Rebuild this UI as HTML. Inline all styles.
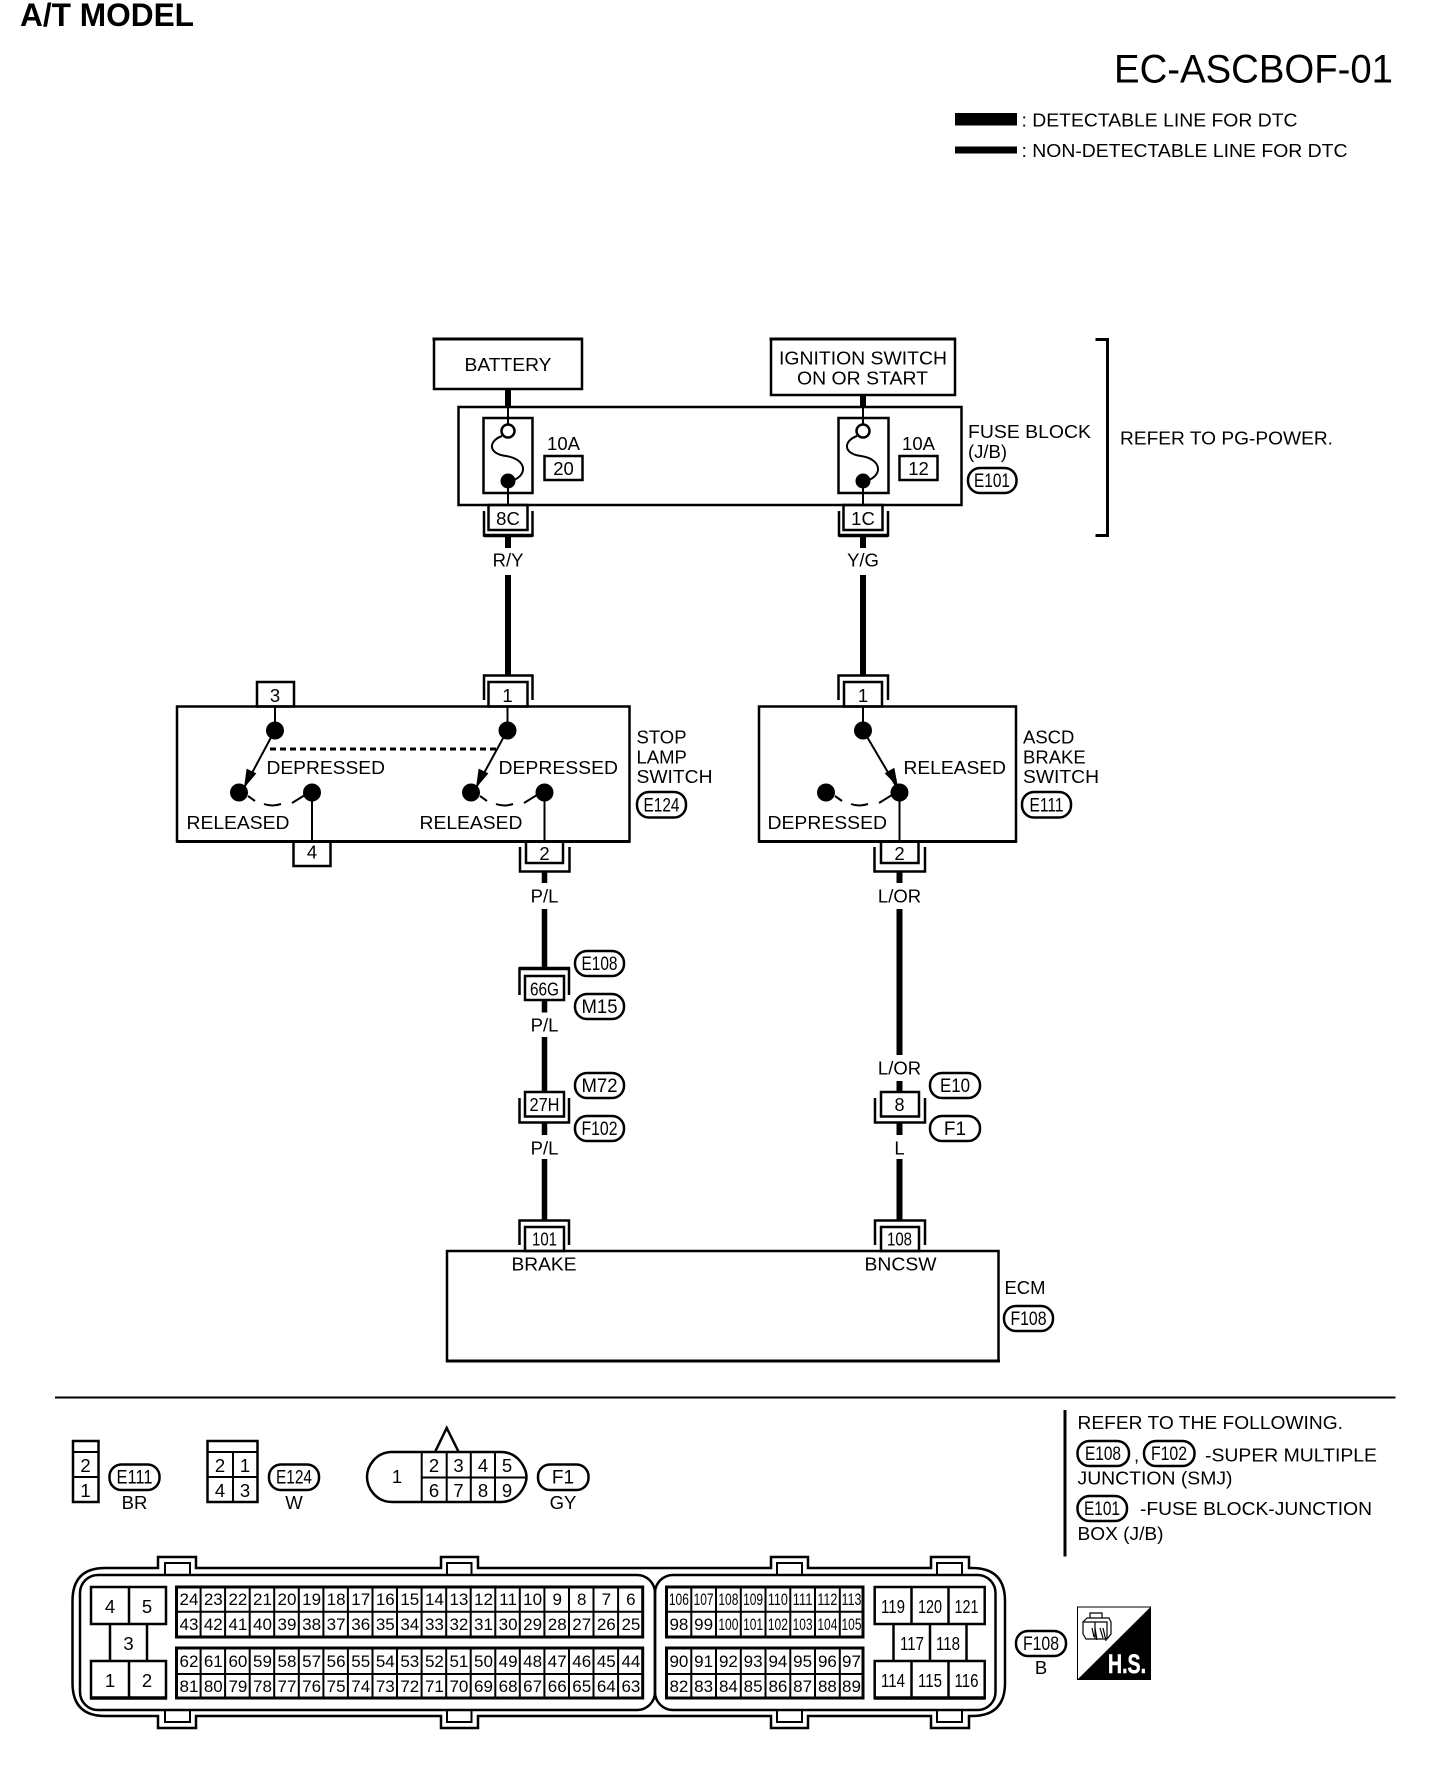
<!DOCTYPE html>
<html><head><meta charset="utf-8"><title>EC-ASCBOF-01</title>
<style>
html,body{margin:0;padding:0;background:#fff}
svg{display:block}
text{font-family:"Liberation Sans",sans-serif;font-size:18.5px;fill:#000}
.c text,text.c{text-anchor:middle}
.b{fill:none;stroke:#000;stroke-width:2.5}
.t{fill:none;stroke:#000;stroke-width:6}
.t2{fill:none;stroke:#000;stroke-width:5.5}
.n{fill:none;stroke:#000;stroke-width:2}
.g{fill:none;stroke:#000;stroke-width:2}
.cap rect{fill:#fff;stroke:#000;stroke-width:2.5}
.cap text{text-anchor:middle;font-size:19px}
.d text{font-size:17px;text-anchor:middle}
</style></head><body>
<svg xmlns="http://www.w3.org/2000/svg" width="1440" height="1780" viewBox="0 0 1440 1780">
<rect width="1440" height="1780" fill="#fff"/>
<!-- Header -->
<text x="20" y="26" style="font-size:32px;font-weight:bold" textLength="174" lengthAdjust="spacingAndGlyphs">A/T MODEL</text>
<text x="1114" y="82.5" style="font-size:40px" textLength="279" lengthAdjust="spacingAndGlyphs">EC-ASCBOF-01</text>
<rect x="955" y="113" width="62" height="12.5" fill="#000"/>
<rect x="955" y="146.5" width="62" height="7" fill="#000"/>
<text x="1021.5" y="126.5" textLength="276" lengthAdjust="spacingAndGlyphs">: DETECTABLE LINE FOR DTC</text>
<text x="1021.5" y="157" textLength="326" lengthAdjust="spacingAndGlyphs">: NON-DETECTABLE LINE FOR DTC</text>

<!-- Top boxes -->
<rect class="b" x="434" y="339" width="148" height="50"/>
<path d="M432.5 339H583" stroke="#000" stroke-width="3"/>
<text x="464.5" y="371" textLength="87" lengthAdjust="spacingAndGlyphs">BATTERY</text>
<rect class="b" x="771" y="339" width="184" height="56"/>
<path d="M769.5 339H956" stroke="#000" stroke-width="3"/>
<text x="779" y="364.5" textLength="168" lengthAdjust="spacingAndGlyphs">IGNITION SWITCH</text>
<text x="797" y="384.5" textLength="131" lengthAdjust="spacingAndGlyphs">ON OR START</text>
<path class="t" d="M508 389V407M863 395V407"/>

<!-- Fuse block -->
<rect class="b" x="458.5" y="407" width="503" height="98"/>
<path class="n" d="M508 407V425M508 487V505M863 407V425M863 487V505"/>
<rect class="b" x="483.5" y="418" width="49" height="75"/>
<rect class="b" x="838.5" y="418" width="50" height="75"/>
<circle class="b" cx="508" cy="431" r="6.5" fill="#fff"/>
<circle cx="508" cy="481" r="7.5" fill="#000"/>
<circle class="b" cx="863" cy="431" r="6.5" fill="#fff"/>
<circle cx="863" cy="481" r="7.5" fill="#000"/>
<path class="n" d="M502 436C488 441 488 454 506 456C526 459 528 474 514 480"/>
<path class="n" d="M857 436C843 441 843 454 861 456C881 459 883 474 869 480"/>
<g class="c">
<text x="563.5" y="450">10A</text><text x="918.5" y="450">10A</text>
<text x="563.5" y="475">20</text><text x="918.5" y="475">12</text>
<text x="508" y="525">8C</text><text x="863" y="525">1C</text>
</g>
<rect class="b" x="544.5" y="456" width="38" height="24"/>
<rect class="b" x="899.5" y="456" width="38" height="24"/>
<rect class="b" x="488.5" y="505" width="39" height="25"/>
<rect class="b" x="843.5" y="505" width="39" height="25"/>
<path class="b" d="M484 511V535.5H532.5V511M839 511V535.5H888V511"/>
<path class="b" d="M484 535.5H532.5M839 535.5H888" style="stroke-width:3.5"/>
<text x="968" y="438" textLength="123" lengthAdjust="spacingAndGlyphs">FUSE BLOCK</text>
<text x="968" y="458">(J/B)</text>
<g class="cap"><rect x="968" y="468" width="48.5" height="25" rx="12"/><text x="992" y="487" textLength="36" lengthAdjust="spacingAndGlyphs">E101</text></g>
<path d="M1095.5 339.5H1107.5V535.5H1095.5" fill="none" stroke="#000" stroke-width="3"/>
<text x="1120" y="444.5" textLength="213" lengthAdjust="spacingAndGlyphs">REFER TO PG-POWER.</text>

<!-- Wires -->
<path class="t" d="M508 536V548M508 575V675M863 536V548M863 575V675"/>
<path class="t2" d="M544.5 872V883M544.5 909V968M544.5 1000V1012.5M544.5 1037V1092M544.5 1123V1135M544.5 1159V1220"/>
<path class="t" d="M899.5 872V883M899.5 909V1055M899.5 1081V1092M899.5 1123V1135M899.5 1159V1220"/>
<g class="c">
<text x="508" y="566.5">R/Y</text><text x="863" y="566.5">Y/G</text>
<text x="544.5" y="902.5">P/L</text><text x="899.5" y="902.5">L/OR</text>
<text x="544.5" y="1031.5">P/L</text><text x="544.5" y="1154.5">P/L</text>
<text x="899.5" y="1074.5">L/OR</text><text x="899.5" y="1154.5">L</text>
</g>

<!-- Stop lamp switch -->
<rect class="b" x="177" y="706.5" width="452.5" height="135"/>
<path d="M177 841.5H630" stroke="#000" stroke-width="3"/>
<rect class="b" x="257" y="682" width="37" height="24.5"/>
<rect class="b" x="488.5" y="682" width="39" height="24.5"/>
<path class="b" d="M484 700V675.5H532.5V700"/>
<rect class="b" x="293.5" y="841.5" width="37" height="24.5"/>
<rect class="b" x="526" y="841.5" width="37" height="21.5"/>
<path class="b" d="M520 847V871.5H569.5V847"/>
<path class="n" d="M275 707V730L245 786M507.5 707V730L477 786M312 792V842M544.5 792V842"/>
<circle cx="275" cy="730.5" r="9"/><circle cx="507.5" cy="730.5" r="9"/>
<circle cx="239" cy="792.5" r="9"/><circle cx="312" cy="792.5" r="9"/>
<circle cx="471" cy="792.5" r="9"/><circle cx="544.5" cy="792.5" r="9"/>
<polygon points="244,788 256.4,773.4 246.6,768.6"/>
<polygon points="476,788 488.4,773.4 478.6,768.6"/>
<path d="M270 749H498" stroke="#000" stroke-width="3" stroke-dasharray="6 4" fill="none"/>
<path class="n" d="M248 796L255 801M264 804Q272 807 281 804M292 803L305 795"/>
<path class="n" d="M480 796L487 801M496 804Q504 807 513 804M524 803L537 795"/>
<text x="266.5" y="774" textLength="118.5" lengthAdjust="spacingAndGlyphs">DEPRESSED</text>
<text x="498.5" y="774" textLength="119.5" lengthAdjust="spacingAndGlyphs">DEPRESSED</text>
<text x="186.5" y="829" textLength="103" lengthAdjust="spacingAndGlyphs">RELEASED</text>
<text x="419.5" y="829" textLength="103" lengthAdjust="spacingAndGlyphs">RELEASED</text>
<text x="636.5" y="743.5">STOP</text><text x="636.5" y="763.5">LAMP</text>
<text x="636.5" y="783" textLength="76" lengthAdjust="spacingAndGlyphs">SWITCH</text>
<g class="c"><text x="275" y="702">3</text><text x="507.5" y="702">1</text><text x="312" y="858.5">4</text><text x="544.5" y="860">2</text></g>
<g class="cap"><rect x="637" y="792" width="49" height="25.5" rx="12"/><text x="661.5" y="811.5" textLength="36" lengthAdjust="spacingAndGlyphs">E124</text></g>

<!-- ASCD switch -->
<rect class="b" x="759" y="706.5" width="257" height="135"/>
<path d="M759 841.5H1017" stroke="#000" stroke-width="3"/>
<rect class="b" x="844" y="682" width="38" height="24.5"/>
<path class="b" d="M838.5 700V675.5H888V700"/>
<rect class="b" x="881" y="841.5" width="37.5" height="21.5"/>
<path class="b" d="M874.5 847V871.5H925V847"/>
<path class="n" d="M863 707V730L896 786M899.5 792V842"/>
<circle cx="863" cy="730.5" r="9"/><circle cx="899.5" cy="792.5" r="9"/><circle cx="826" cy="792.5" r="9"/>
<polygon points="898,787 894.3,767.7 884.7,773.2"/>
<path class="n" d="M835 796L842 801M851 804Q859 807 868 804M879 803L892 795"/>
<text x="903.5" y="774" textLength="102.5" lengthAdjust="spacingAndGlyphs">RELEASED</text>
<text x="767.5" y="829" textLength="119.5" lengthAdjust="spacingAndGlyphs">DEPRESSED</text>
<text x="1023" y="743.5">ASCD</text><text x="1023" y="763.5">BRAKE</text>
<text x="1023" y="783" textLength="76" lengthAdjust="spacingAndGlyphs">SWITCH</text>
<g class="c"><text x="863" y="702">1</text><text x="899.5" y="860">2</text></g>
<g class="cap"><rect x="1022" y="792" width="49" height="25.5" rx="12"/><text x="1046.5" y="811.5" textLength="34" lengthAdjust="spacingAndGlyphs">E111</text></g>

<!-- In-line connectors -->
<path class="b" d="M519.5 995V968.5H569V995"/><path d="M519 968.5H570" stroke="#000" stroke-width="3.5"/>
<rect class="b" x="525" y="976" width="39" height="24" fill="#fff"/>
<text class="c" x="544.5" y="995.5" style="font-size:18px" textLength="29" lengthAdjust="spacingAndGlyphs">66G</text>
<path class="b" d="M519.5 1098V1122.5H569V1098"/>
<rect class="b" x="525" y="1092" width="39" height="24.5" fill="#fff"/>
<text class="c" x="544.5" y="1111" style="font-size:18px" textLength="30" lengthAdjust="spacingAndGlyphs">27H</text>
<path class="b" d="M875 1098V1122.5H925V1098"/>
<rect class="b" x="881" y="1092" width="38" height="24.5" fill="#fff"/>
<text class="c" x="899.5" y="1111" style="font-size:18px">8</text>
<path class="b" d="M519.5 1245V1220.5H569V1245M875 1245V1220.5H925V1245"/>
<rect class="b" x="525" y="1227" width="39" height="24" fill="#fff"/>
<rect class="b" x="881" y="1227" width="38" height="24" fill="#fff"/>
<text class="c" x="544.5" y="1245.5" style="font-size:18px" textLength="25" lengthAdjust="spacingAndGlyphs">101</text>
<text class="c" x="899.5" y="1245.5" style="font-size:18px" textLength="25" lengthAdjust="spacingAndGlyphs">108</text>
<g class="cap">
<rect x="575" y="951" width="49" height="25" rx="12"/><text x="599.5" y="970" textLength="36" lengthAdjust="spacingAndGlyphs">E108</text>
<rect x="575" y="994" width="49" height="25" rx="12"/><text x="599.5" y="1013" textLength="36" lengthAdjust="spacingAndGlyphs">M15</text>
<rect x="575" y="1073" width="49" height="25" rx="12"/><text x="599.5" y="1092" textLength="36" lengthAdjust="spacingAndGlyphs">M72</text>
<rect x="575" y="1116" width="49" height="25" rx="12"/><text x="599.5" y="1135" textLength="36" lengthAdjust="spacingAndGlyphs">F102</text>
<rect x="930" y="1073" width="50" height="25" rx="12"/><text x="955" y="1092" textLength="30" lengthAdjust="spacingAndGlyphs">E10</text>
<rect x="930" y="1116" width="50" height="25" rx="12"/><text x="955" y="1135">F1</text>
</g>

<!-- ECM -->
<rect class="b" x="447" y="1251" width="551.5" height="110"/>
<path d="M446 1361H1000" stroke="#000" stroke-width="3"/>
<text x="511.5" y="1270.5" textLength="65" lengthAdjust="spacingAndGlyphs">BRAKE</text>
<text x="864.5" y="1270.5" textLength="72" lengthAdjust="spacingAndGlyphs">BNCSW</text>
<text x="1004.5" y="1294" textLength="41" lengthAdjust="spacingAndGlyphs">ECM</text>
<g class="cap"><rect x="1004" y="1306" width="49" height="25" rx="12"/><text x="1028.5" y="1325" textLength="36" lengthAdjust="spacingAndGlyphs">F108</text></g>

<!-- Rules -->
<path d="M55 1397.5H1395.5" stroke="#000" stroke-width="2"/>
<path d="M1065 1410V1556.5" stroke="#000" stroke-width="3"/>

<!-- Small connectors -->
<rect class="b" x="73" y="1441" width="25.5" height="61"/>
<path class="n" d="M73 1452H98.5M73 1477H98.5"/>
<g class="c"><text x="85.5" y="1472">2</text><text x="85.5" y="1497">1</text></g>
<g class="cap"><rect x="109.5" y="1464.5" width="50" height="25.5" rx="12"/><text x="134.5" y="1483.5" textLength="36" lengthAdjust="spacingAndGlyphs">E111</text></g>
<text class="c" x="134.5" y="1509">BR</text>

<rect class="b" x="207.5" y="1441" width="50" height="61"/>
<path class="n" d="M207.5 1452H257.5M207.5 1477H257.5M233 1452V1502"/>
<g class="c"><text x="220" y="1472">2</text><text x="245" y="1472">1</text><text x="220" y="1497">4</text><text x="245" y="1497">3</text></g>
<g class="cap"><rect x="269" y="1464.5" width="50" height="25.5" rx="12"/><text x="294" y="1483.5" textLength="36" lengthAdjust="spacingAndGlyphs">E124</text></g>
<text class="c" x="294" y="1509">W</text>

<path class="b" d="M435 1452L446.7 1428L458.7 1452"/>
<path class="b" d="M392 1452H501C518 1452 526.5 1468 526.5 1477C526.5 1486 518 1502 501 1502H392C376 1502 367 1488 367 1477C367 1466 376 1452 392 1452Z"/>
<path class="n" d="M421.7 1452V1502M446.7 1452V1502M470.8 1452V1502M495 1452V1502M421.7 1477.5H526.5"/>
<g class="c"><text x="397" y="1483">1</text>
<text x="434" y="1472">2</text><text x="458.5" y="1472">3</text><text x="483" y="1472">4</text><text x="507" y="1472">5</text>
<text x="434" y="1497">6</text><text x="458.5" y="1497">7</text><text x="483" y="1497">8</text><text x="507" y="1497">9</text></g>
<g class="cap"><rect x="538" y="1464.5" width="50.5" height="25.5" rx="12"/><text x="563" y="1483.5">F1</text></g>
<text class="c" x="563" y="1509">GY</text>

<!-- Refer notes -->
<text x="1077.5" y="1429" textLength="265.5" lengthAdjust="spacingAndGlyphs">REFER TO THE FOLLOWING.</text>
<g class="cap"><rect x="1077.5" y="1441" width="51.5" height="25" rx="12"/><text x="1103" y="1460" textLength="36" lengthAdjust="spacingAndGlyphs">E108</text>
<rect x="1144" y="1441" width="50.5" height="25" rx="12"/><text x="1169" y="1460" textLength="36" lengthAdjust="spacingAndGlyphs">F102</text>
<rect x="1077.5" y="1496" width="49.5" height="25" rx="12"/><text x="1102" y="1515" textLength="36" lengthAdjust="spacingAndGlyphs">E101</text></g>
<text x="1134" y="1461.5">,</text>
<text x="1205" y="1461.5" textLength="172" lengthAdjust="spacingAndGlyphs">-SUPER MULTIPLE</text>
<text x="1077.5" y="1484.5" textLength="155" lengthAdjust="spacingAndGlyphs">JUNCTION (SMJ)</text>
<text x="1140" y="1515" textLength="232" lengthAdjust="spacingAndGlyphs">-FUSE BLOCK-JUNCTION</text>
<text x="1077.5" y="1540" textLength="86" lengthAdjust="spacingAndGlyphs">BOX (J/B)</text>

<!-- ECM connector outline -->
<path class="b" d="M105 1568H158V1557H196V1568H441V1557H478V1568H771V1557H808V1568H931V1557H969V1568H972Q1005 1568 1005 1601V1683Q1005 1716 972 1716H969V1728H931V1716H808V1728H771V1716H478V1728H441V1716H196V1728H158V1716H105Q72.5 1716 72.5 1683V1601Q72.5 1568 105 1568Z"/>
<rect class="b" x="80" y="1575" width="575" height="135" rx="18"/>
<rect class="b" x="655" y="1575" width="340.5" height="135" rx="18"/>
<path class="n" d="M165 1575V1563H190V1575M447 1575V1563H471.5V1575M777 1575V1563H802V1575M937 1575V1563H962V1575"/>
<path class="n" d="M165 1710V1722H190V1710M447 1710V1722H471.5V1710M777 1710V1722H802V1710M937 1710V1722H962V1710"/>

<!-- Left block -->
<rect class="b" x="91" y="1587" width="75" height="37"/>
<rect class="b" x="91" y="1661" width="75" height="37"/>
<path class="b" d="M129 1587V1624M129 1661V1698M110 1624V1661M147 1624V1661"/>
<path d="M90 1698H167" stroke="#000" stroke-width="3.5"/>
<g class="c"><text x="110" y="1613">4</text><text x="147" y="1613">5</text><text x="128.5" y="1650">3</text><text x="110" y="1687">1</text><text x="147" y="1687">2</text></g>

<!-- Grid A -->
<rect x="176.5" y="1587" width="466.2" height="50" fill="none" stroke="#000" stroke-width="3"/>
<rect x="176.5" y="1648" width="466.2" height="50" fill="none" stroke="#000" stroke-width="3"/>
<path class="g" d="M176 1611.7H642.7M176 1674H642.7"/>
<path class="g" d="M200.6 1587V1637M225.1 1587V1637M249.7 1587V1637M274.2 1587V1637M298.8 1587V1637M323.4 1587V1637M347.9 1587V1637M372.5 1587V1637M397 1587V1637M421.6 1587V1637M446.2 1587V1637M470.7 1587V1637M495.3 1587V1637M519.8 1587V1637M544.4 1587V1637M569 1587V1637M593.5 1587V1637M618.1 1587V1637"/>
<path class="g" d="M200.6 1648V1698M225.1 1648V1698M249.7 1648V1698M274.2 1648V1698M298.8 1648V1698M323.4 1648V1698M347.9 1648V1698M372.5 1648V1698M397 1648V1698M421.6 1648V1698M446.2 1648V1698M470.7 1648V1698M495.3 1648V1698M519.8 1648V1698M544.4 1648V1698M569 1648V1698M593.5 1648V1698M618.1 1648V1698"/>
<g class="d">
<text x="189" y="1605">24</text><text x="213.3" y="1605">23</text><text x="237.9" y="1605">22</text><text x="262.5" y="1605">21</text><text x="287" y="1605">20</text><text x="311.6" y="1605">19</text><text x="336.1" y="1605">18</text><text x="360.7" y="1605">17</text><text x="385.3" y="1605">16</text><text x="409.8" y="1605">15</text><text x="434.4" y="1605">14</text><text x="458.9" y="1605">13</text><text x="483.5" y="1605">12</text><text x="508.1" y="1605">11</text><text x="532.6" y="1605">10</text><text x="557.2" y="1605">9</text><text x="581.7" y="1605">8</text><text x="606.3" y="1605">7</text><text x="630.9" y="1605">6</text>
<text x="189" y="1630">43</text><text x="213.3" y="1630">42</text><text x="237.9" y="1630">41</text><text x="262.5" y="1630">40</text><text x="287" y="1630">39</text><text x="311.6" y="1630">38</text><text x="336.1" y="1630">37</text><text x="360.7" y="1630">36</text><text x="385.3" y="1630">35</text><text x="409.8" y="1630">34</text><text x="434.4" y="1630">33</text><text x="458.9" y="1630">32</text><text x="483.5" y="1630">31</text><text x="508.1" y="1630">30</text><text x="532.6" y="1630">29</text><text x="557.2" y="1630">28</text><text x="581.7" y="1630">27</text><text x="606.3" y="1630">26</text><text x="630.9" y="1630">25</text>
<text x="189" y="1667">62</text><text x="213.3" y="1667">61</text><text x="237.9" y="1667">60</text><text x="262.5" y="1667">59</text><text x="287" y="1667">58</text><text x="311.6" y="1667">57</text><text x="336.1" y="1667">56</text><text x="360.7" y="1667">55</text><text x="385.3" y="1667">54</text><text x="409.8" y="1667">53</text><text x="434.4" y="1667">52</text><text x="458.9" y="1667">51</text><text x="483.5" y="1667">50</text><text x="508.1" y="1667">49</text><text x="532.6" y="1667">48</text><text x="557.2" y="1667">47</text><text x="581.7" y="1667">46</text><text x="606.3" y="1667">45</text><text x="630.9" y="1667">44</text>
<text x="189" y="1692">81</text><text x="213.3" y="1692">80</text><text x="237.9" y="1692">79</text><text x="262.5" y="1692">78</text><text x="287" y="1692">77</text><text x="311.6" y="1692">76</text><text x="336.1" y="1692">75</text><text x="360.7" y="1692">74</text><text x="385.3" y="1692">73</text><text x="409.8" y="1692">72</text><text x="434.4" y="1692">71</text><text x="458.9" y="1692">70</text><text x="483.5" y="1692">69</text><text x="508.1" y="1692">68</text><text x="532.6" y="1692">67</text><text x="557.2" y="1692">66</text><text x="581.7" y="1692">65</text><text x="606.3" y="1692">64</text><text x="630.9" y="1692">63</text>
</g>

<!-- Grid B -->
<rect x="666.5" y="1587" width="196.5" height="50" fill="none" stroke="#000" stroke-width="3"/>
<rect x="666.5" y="1648" width="196.5" height="50" fill="none" stroke="#000" stroke-width="3"/>
<path class="g" d="M666.5 1611.7H863M666.5 1674H863"/>
<path class="g" d="M691.3 1587V1637M716 1587V1637M740.8 1587V1637M765.5 1587V1637M790.3 1587V1637M815 1587V1637M839.8 1587V1637"/>
<path class="g" d="M691.3 1648V1698M716 1648V1698M740.8 1648V1698M765.5 1648V1698M790.3 1648V1698M815 1648V1698M839.8 1648V1698"/>
<g class="d">
<text x="678.9" y="1605" textLength="20" lengthAdjust="spacingAndGlyphs">106</text><text x="703.6" y="1605" textLength="20" lengthAdjust="spacingAndGlyphs">107</text><text x="728.4" y="1605" textLength="20" lengthAdjust="spacingAndGlyphs">108</text><text x="753.1" y="1605" textLength="20" lengthAdjust="spacingAndGlyphs">109</text><text x="777.9" y="1605" textLength="20" lengthAdjust="spacingAndGlyphs">110</text><text x="802.6" y="1605" textLength="20" lengthAdjust="spacingAndGlyphs">111</text><text x="827.4" y="1605" textLength="20" lengthAdjust="spacingAndGlyphs">112</text><text x="851.5" y="1605" textLength="20" lengthAdjust="spacingAndGlyphs">113</text>
<text x="678.9" y="1630">98</text><text x="703.6" y="1630">99</text><text x="728.4" y="1630" textLength="20" lengthAdjust="spacingAndGlyphs">100</text><text x="753.1" y="1630" textLength="20" lengthAdjust="spacingAndGlyphs">101</text><text x="777.9" y="1630" textLength="20" lengthAdjust="spacingAndGlyphs">102</text><text x="802.6" y="1630" textLength="20" lengthAdjust="spacingAndGlyphs">103</text><text x="827.4" y="1630" textLength="20" lengthAdjust="spacingAndGlyphs">104</text><text x="851.5" y="1630" textLength="20" lengthAdjust="spacingAndGlyphs">105</text>
<text x="678.9" y="1667">90</text><text x="703.6" y="1667">91</text><text x="728.4" y="1667">92</text><text x="753.1" y="1667">93</text><text x="777.9" y="1667">94</text><text x="802.6" y="1667">95</text><text x="827.4" y="1667">96</text><text x="851.5" y="1667">97</text>
<text x="678.9" y="1692">82</text><text x="703.6" y="1692">83</text><text x="728.4" y="1692">84</text><text x="753.1" y="1692">85</text><text x="777.9" y="1692">86</text><text x="802.6" y="1692">87</text><text x="827.4" y="1692">88</text><text x="851.5" y="1692">89</text>
</g>

<!-- Block C -->
<rect class="b" x="874.7" y="1587" width="110" height="37"/>
<rect class="b" x="874.7" y="1661" width="110" height="37"/>
<path class="b" d="M911.5 1587V1624M948.5 1587V1624M911.5 1661V1698M948.5 1661V1698M893.5 1624V1661M930 1624V1661M966.5 1624V1661"/>
<path d="M874 1698H985.5" stroke="#000" stroke-width="3.5"/>
<g class="c">
<text x="893" y="1613" textLength="24" lengthAdjust="spacingAndGlyphs">119</text><text x="930" y="1613" textLength="24" lengthAdjust="spacingAndGlyphs">120</text><text x="966.5" y="1613" textLength="24" lengthAdjust="spacingAndGlyphs">121</text>
<text x="912" y="1650" textLength="24" lengthAdjust="spacingAndGlyphs">117</text><text x="948" y="1650" textLength="24" lengthAdjust="spacingAndGlyphs">118</text>
<text x="893" y="1687" textLength="24" lengthAdjust="spacingAndGlyphs">114</text><text x="930" y="1687" textLength="24" lengthAdjust="spacingAndGlyphs">115</text><text x="966.5" y="1687" textLength="24" lengthAdjust="spacingAndGlyphs">116</text>
</g>
<g class="cap"><rect x="1012" y="1631" width="0" height="0" style="display:none"/><rect x="1016" y="1631" width="50" height="25" rx="12"/><text x="1041" y="1650" textLength="36" lengthAdjust="spacingAndGlyphs">F108</text></g>
<text class="c" x="1041" y="1674">B</text>

<!-- H.S. icon -->
<rect x="1077.5" y="1607" width="73" height="72.5" fill="#fff" stroke="#000" stroke-width="1"/>
<polygon points="1151,1606.5 1151,1680 1077,1680" fill="#000"/>
<text x="1108" y="1673" style="font-size:27px;font-weight:bold;fill:#fff;stroke:#fff;stroke-width:.5" textLength="38" lengthAdjust="spacingAndGlyphs">H.S.</text>
<path d="M1090 1618V1613H1102V1618M1083 1622L1087 1618H1109L1111 1622V1634L1107 1639M1083 1622H1107V1639H1086L1083 1634ZM1095 1622V1639M1092 1628L1094 1637M1095 1628L1097 1640M1103 1628L1106 1641M1100 1628L1103 1638" fill="none" stroke="#000" stroke-width="1.2"/>
</svg>
</body></html>
